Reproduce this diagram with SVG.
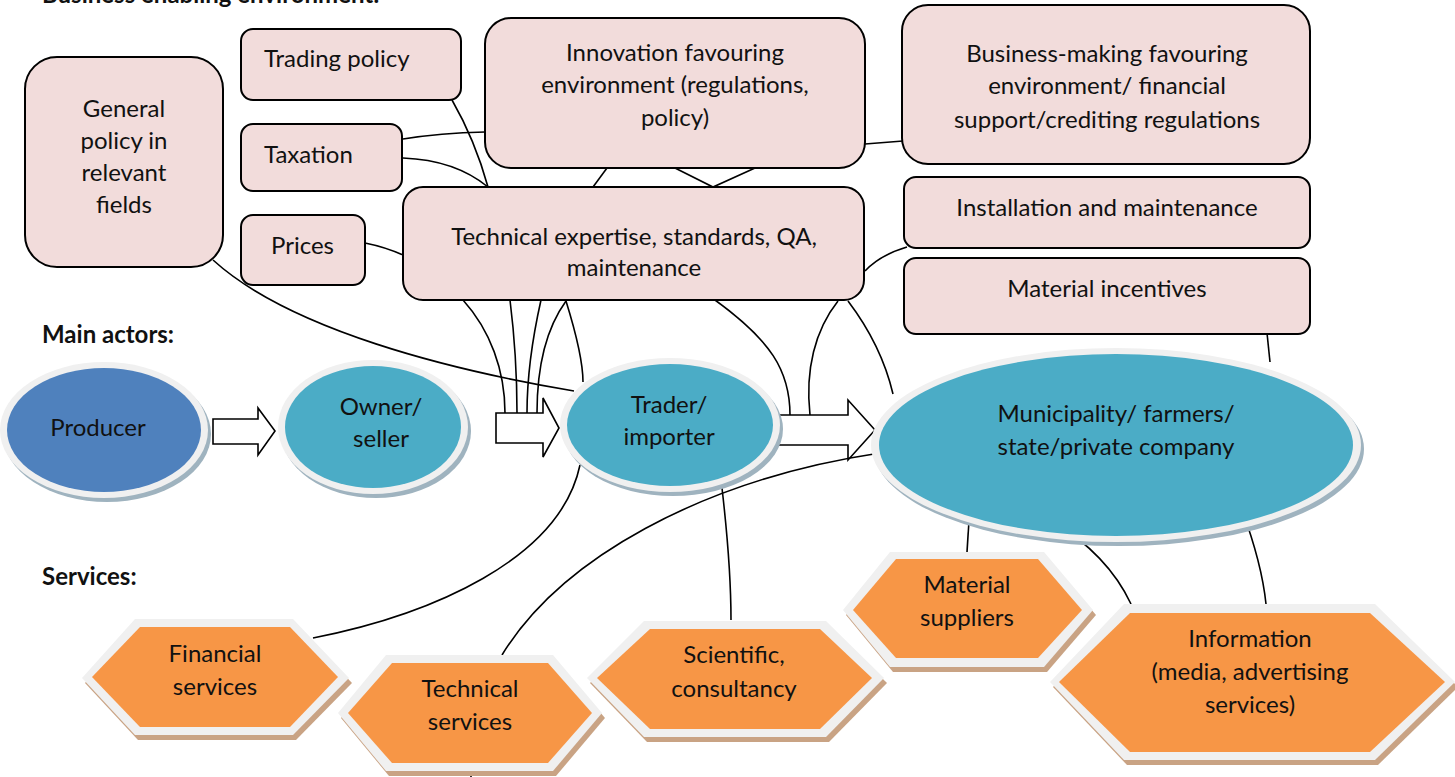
<svg xmlns="http://www.w3.org/2000/svg" width="1455" height="777" viewBox="0 0 1455 777">
<style>
text{font-family:Lato,"Open Sans","Liberation Sans",sans-serif;font-size:24px;fill:#111}
.h{font-weight:bold;font-size:24px}
.c{text-anchor:middle}
.box{fill:#f2dcdb;stroke:#000;stroke-width:2}
.con path{fill:none;stroke:#000;stroke-width:1.6}
.blk{fill:#fff;stroke:#000;stroke-width:2}
.rim{fill:#f0f0f0}
.esh{fill:#9fb3bf}
.hsh{fill:#c9a384}
.hex{fill:#f79646}
</style>
<rect width="1455" height="777" fill="#fff"/>
<text class="h" x="42" y="3">Business enabling environment:</text>
<text class="h" x="42" y="343">Main actors:</text>
<text class="h" x="42" y="585">Services:</text>

<g class="con" id="connectors">
<path d="M403,139 Q440,133 485,132"/>
<path d="M403,158 Q455,160 488,187"/>
<path d="M452,100 Q475,140 488,187"/>
<path d="M365,243 Q385,247 403,255"/>
<path d="M593,187 L607,168"/>
<path d="M675,168 L713,187 L755,168"/>
<path d="M865,144 L903,141"/>
<path d="M865,271 Q880,255 907,247"/>
<path d="M1267,333 L1270,362"/>
<path d="M463,300 C490,330 505,370 505,413"/>
<path d="M510,300 C515,340 517,380 517,413"/>
<path d="M541,300 C532,340 527,380 527,413"/>
<path d="M566,301 C545,330 537,370 537,413"/>
<path d="M566,301 C575,330 583,360 583,382"/>
<path d="M213,260 C290,330 450,370 574,391"/>
<path d="M715,300 C770,340 790,370 790,415"/>
<path d="M838,301 C815,330 805,370 810,415"/>
<path d="M848,301 C870,330 885,360 893,394"/>
<path d="M580,465 C560,560 430,615 313,638"/>
<path d="M880,453 C700,480 560,560 502,655"/>
<path d="M722,488 C728,540 731,580 731,620"/>
<path d="M970,505 L967,552"/>
<path d="M1050,518 C1090,545 1115,570 1131,604"/>
<path d="M1242,510 C1255,545 1263,575 1266,604"/>
<path d="M471,769 L471,777"/>
<path class="blk" d="M213,419 L258,419 L258,408 L275,431 L258,455 L258,444 L213,444 Z"/>
<path class="blk" d="M496,413 L543,413 L543,398 L559,428 L543,457 L543,443 L496,443 Z"/>
<path class="blk" d="M778,415 L848,415 L848,400 L875,430 L848,460 L848,445 L778,445 Z"/>
</g>

<g id="general-policy">
<rect class="box" x="25" y="57" width="198" height="210" rx="32"/>
<text class="c" x="124" y="117">General</text>
<text class="c" x="124" y="149">policy in</text>
<text class="c" x="124" y="181">relevant</text>
<text class="c" x="124" y="213">fields</text>
</g>
<g id="trading-policy">
<rect class="box" x="241" y="29" width="220" height="71" rx="12"/>
<text x="264" y="67">Trading policy</text>
</g>
<g id="taxation">
<rect class="box" x="241" y="124" width="161" height="67" rx="12"/>
<text x="264" y="163">Taxation</text>
</g>
<g id="prices">
<rect class="box" x="241" y="215" width="124" height="70" rx="12"/>
<text x="271" y="254">Prices</text>
</g>
<g id="innovation">
<rect class="box" x="485" y="18" width="380" height="150" rx="26"/>
<text class="c" x="675" y="61">Innovation favouring</text>
<text class="c" x="675" y="93">environment (regulations,</text>
<text class="c" x="675" y="126">policy)</text>
</g>
<g id="business-making">
<rect class="box" x="902" y="5" width="408" height="159" rx="26"/>
<text class="c" x="1107" y="62">Business-making favouring</text>
<text class="c" x="1107" y="94">environment/ financial</text>
<text class="c" x="1107" y="128">support/crediting regulations</text>
</g>
<g id="technical-expertise">
<rect class="box" x="403" y="187" width="461" height="113" rx="20"/>
<text class="c" x="634" y="245">Technical expertise, standards, QA,</text>
<text class="c" x="634" y="276">maintenance</text>
</g>
<g id="installation">
<rect class="box" x="904" y="177" width="406" height="71" rx="12"/>
<text class="c" x="1107" y="216">Installation and maintenance</text>
</g>
<g id="material-incentives">
<rect class="box" x="904" y="258" width="406" height="76" rx="12"/>
<text class="c" x="1107" y="297">Material incentives</text>
</g>

<g id="producer">
<ellipse class="esh" cx="107" cy="434" rx="104" ry="68"/>
<ellipse class="rim" cx="104" cy="430" rx="104" ry="68"/>
<ellipse cx="104" cy="430" rx="97" ry="62" fill="#4f81bd"/>
<text class="c" x="98" y="436">Producer</text>
</g>
<g id="owner-seller">
<ellipse class="esh" cx="376" cy="431" rx="95" ry="67"/>
<ellipse class="rim" cx="373" cy="427" rx="95" ry="67"/>
<ellipse cx="373" cy="427" rx="88" ry="61" fill="#4bacc6"/>
<text class="c" x="381" y="415">Owner/</text>
<text class="c" x="381" y="447">seller</text>
</g>
<g id="trader-importer">
<ellipse class="esh" cx="673" cy="429" rx="110" ry="67"/>
<ellipse class="rim" cx="670" cy="425" rx="110" ry="67"/>
<ellipse cx="670" cy="425" rx="103" ry="61" fill="#4bacc6"/>
<text class="c" x="669" y="413">Trader/</text>
<text class="c" x="669" y="445">importer</text>
</g>
<g id="municipality">
<ellipse class="esh" cx="1119" cy="449" rx="245" ry="97"/>
<ellipse class="rim" cx="1116" cy="445" rx="245" ry="97"/>
<ellipse cx="1116" cy="445" rx="237" ry="91" fill="#4bacc6"/>
<text class="c" x="1116" y="422">Municipality/ farmers/</text>
<text class="c" x="1116" y="455">state/private company</text>
</g>

<g id="financial-services">
<polygon class="hsh" points="85,683 138,624 296,624 352,683 296,740 138,740"/>
<polygon class="rim" points="82,678 135,619 293,619 349,678 293,735 135,735"/>
<polygon class="hex" points="92,677 140,627 290,627 338,677 290,727 140,727"/>
<text class="c" x="215" y="662">Financial</text>
<text class="c" x="215" y="695">services</text>
</g>
<g id="technical-services">
<polygon class="hsh" points="341,718 389,660 556,660 605,718 556,776 389,776"/>
<polygon class="rim" points="338,713 386,655 553,655 602,713 553,771 386,771"/>
<polygon class="hex" points="348,713 392,663 548,663 592,713 548,763 392,763"/>
<text class="c" x="470" y="697">Technical</text>
<text class="c" x="470" y="730">services</text>
</g>
<g id="scientific-consultancy">
<polygon class="hsh" points="590,683 647,626 829,626 887,683 829,742 647,742"/>
<polygon class="rim" points="587,678 644,621 826,621 884,678 826,737 644,737"/>
<polygon class="hex" points="597,678 650,629 820,629 872,678 820,729 650,729"/>
<text class="c" x="734" y="663">Scientific,</text>
<text class="c" x="734" y="697">consultancy</text>
</g>
<g id="material-suppliers">
<polygon class="hsh" points="846,615 893,557 1047,557 1096,615 1047,672 893,672"/>
<polygon class="rim" points="843,610 890,552 1044,552 1093,610 1044,667 890,667"/>
<polygon class="hex" points="853,610 896,559 1038,559 1082,610 1038,658 896,658"/>
<text class="c" x="967" y="593">Material</text>
<text class="c" x="967" y="626">suppliers</text>
</g>
<g id="information">
<polygon class="hsh" points="1053,687 1127,609 1378,609 1458,687 1378,765 1127,765"/>
<polygon class="rim" points="1050,682 1124,604 1375,604 1455,682 1375,760 1124,760"/>
<polygon class="hex" points="1059,682 1130,613 1370,613 1445,682 1370,752 1130,752"/>
<text class="c" x="1250" y="647">Information</text>
<text class="c" x="1250" y="680">(media, advertising</text>
<text class="c" x="1250" y="713">services)</text>
</g>
</svg>
